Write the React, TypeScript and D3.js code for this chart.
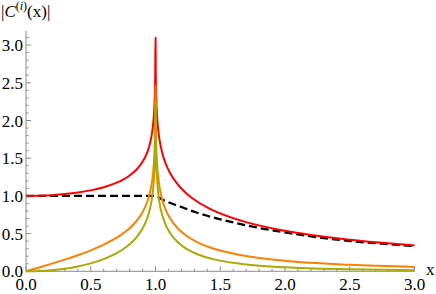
import React from "react";
import * as d3 from "d3";

// x sample positions shared by the three solid curves
const xs = [0, 0.1, 0.2, 0.3, 0.4, 0.5, 0.6, 0.7, 0.75, 0.8, 0.85, 0.9, 0.93, 0.95, 0.97, 0.98, 0.99, 0.995, 0.998, 0.9995,
  1.0005, 1.002, 1.005, 1.0101, 1.0204, 1.0309, 1.0526, 1.0753, 1.1111, 1.1765, 1.25, 1.3333, 1.4286, 1.6667, 2.0, 2.5, 3.0];

const redVals = [1.0, 1.0025, 1.0102, 1.0237, 1.0441, 1.0732, 1.1146, 1.175, 1.2166, 1.2702, 1.3432, 1.4518, 1.5517, 1.6489, 1.8004, 1.9232, 2.1369, 2.3535, 2.6424, 3.1006,
  3.0991, 2.6371, 2.3417, 2.1155, 1.8847, 1.7464, 1.5664, 1.4431, 1.3067, 1.1417, 1.0162, 0.9124, 0.8225, 0.6687, 0.5366, 0.4176, 0.3432];

const orangeVals = [0, 0.0502, 0.1015, 0.1554, 0.2134, 0.2779, 0.353, 0.4457, 0.5029, 0.5721, 0.6605, 0.7844, 0.8934, 0.9967, 1.1544, 1.2803, 1.4971, 1.7153, 2.0051, 2.4638,
  2.4626, 2.0011, 1.7067, 1.4821, 1.2547, 1.1197, 0.9468, 0.8309, 0.7059, 0.5614, 0.4577, 0.3772, 0.312, 0.2118, 0.139, 0.0853, 0.058];

const oliveVals = [0, 0.0038, 0.0153, 0.0351, 0.0645, 0.1055, 0.1619, 0.2408, 0.293, 0.3585, 0.4445, 0.5677, 0.6771, 0.781, 0.9398, 1.0663, 1.2839, 1.5026, 1.7927, 2.2515,
  2.2505, 1.7892, 1.4951, 1.2711, 1.045, 0.9116, 0.742, 0.6297, 0.5109, 0.3778, 0.2868, 0.2198, 0.1685, 0.0971, 0.0527, 0.0258, 0.0146];

const dashX = [0, 1.0, 1.05, 1.1, 1.2, 1.3, 1.4, 1.5, 1.6, 1.7, 1.8, 2.0, 2.25, 2.5, 2.75, 3.0];
const dashY = [1, 1, 0.955, 0.915, 0.853, 0.79, 0.737, 0.69, 0.648, 0.61, 0.575, 0.515, 0.452, 0.402, 0.366, 0.334];

const xMajor = ["0.0", "0.5", "1.0", "1.5", "2.0", "2.5", "3.0"];
const yMajor = ["0.0", "0.5", "1.0", "1.5", "2.0", "2.5", "3.0"];

const W = 436;
const H = 294;

export default function App() {
  const x = d3.scaleLinear().domain([0, 3]).range([26, 414.5]);
  const y = d3.scaleLinear().domain([0, 3]).range([271.3, 45.1]);
  const yTop = 3.19;

  const line = d3
    .line<[number, number]>()
    .x((d) => x(d[0]))
    .y((d) => y(d[1]))
    .curve(d3.curveMonotoneX);

  const pts = (vals: number[]) => xs.map((v, i) => [v, vals[i]] as [number, number]);
  const dashPts = dashX.map((v, i) => [v, dashY[i]] as [number, number]);

  const minorX = d3.range(0, 31).map((i) => i / 10);
  const minorY = d3.range(0, 32).map((i) => i / 10);
  const axisColor = "#8c8c8c";
  const font = "'Liberation Serif', 'Times New Roman', serif";

  return (
    <svg width={W} height={H} style={{ position: "absolute", left: 0, top: 0, background: "#fff" }}>
      {/* axes */}
      <line x1={x(0)} x2={x(3)} y1={y(0)} y2={y(0)} stroke={axisColor} strokeWidth={1} />
      <line x1={x(0)} x2={x(0)} y1={y(0)} y2={y(yTop)} stroke={axisColor} strokeWidth={1} />
      {minorX.map((v) => {
        const major = Math.abs(v * 2 - Math.round(v * 2)) < 1e-6;
        return (
          <line key={"xt" + v} x1={x(v)} x2={x(v)} y1={y(0)} y2={y(0) - (major ? 5 : 2.5)} stroke={axisColor} strokeWidth={1} />
        );
      })}
      {minorY.map((v) => {
        const major = Math.abs(v * 2 - Math.round(v * 2)) < 1e-6;
        return (
          <line key={"yt" + v} x1={x(0)} x2={x(0) + (major ? 5 : 2.5)} y1={y(v)} y2={y(v)} stroke={axisColor} strokeWidth={1} />
        );
      })}
      {xMajor.map((t) => (
        <text key={"xl" + t} x={x(+t)} y={290} textAnchor="middle" fontFamily={font} fontSize={17} fill="#000">
          {t}
        </text>
      ))}
      {yMajor.map((t) => (
        <text key={"yl" + t} x={23} y={y(+t) + 6} textAnchor="end" fontFamily={font} fontSize={17} fill="#000">
          {t}
        </text>
      ))}
      {/* curves */}
      <path d={line(dashPts) || ""} fill="none" stroke="#000" strokeWidth={2.3} strokeDasharray="8,4" />
      <path d={line(pts(redVals)) || ""} fill="none" stroke="#ff0000" strokeWidth={2} />
      <path d={line(pts(orangeVals)) || ""} fill="none" stroke="#ff8000" strokeWidth={2} />
      <path d={line(pts(oliveVals)) || ""} fill="none" stroke="#aaaa00" strokeWidth={2} />
      {/* labels */}
      <text x={1} y={17} fontFamily={font} fontSize={17} fill="#000">
        <tspan>|</tspan>
        <tspan fontStyle="italic">C</tspan>
        <tspan dy={-7} fontSize={12}>(</tspan>
        <tspan fontSize={12} fontStyle="italic">i</tspan>
        <tspan fontSize={12}>)</tspan>
        <tspan dy={7}>(x)|</tspan>
      </text>
      <text x={426} y={275} fontFamily={font} fontSize={17} fill="#000">
        x
      </text>
    </svg>
  );
}
